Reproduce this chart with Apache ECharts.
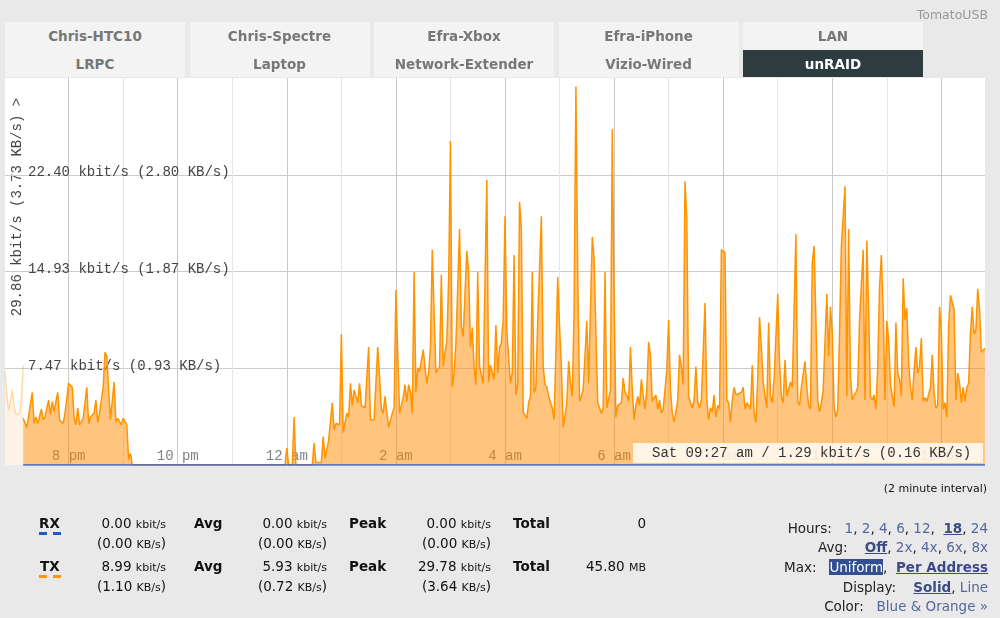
<!DOCTYPE html>
<html>
<head>
<meta charset="utf-8">
<title>Bandwidth: unRAID</title>
<script src="https://cdn.jsdelivr.net/npm/echarts@6/dist/echarts.min.js"></script>
<style>
body{margin:0;width:1000px;height:618px;overflow:hidden;background:#e9e9e9;font-family:'DejaVu Sans',sans-serif;position:relative}
#chart{position:absolute;left:0;top:0;width:1000px;height:618px}
.abs{position:absolute;white-space:nowrap;line-height:16px}
.tab{position:absolute;top:22px;width:180px;height:55px;background:#f3f3f3}
.tab div{height:27.5px;line-height:29px;text-align:center;font-weight:bold;font-size:13.5px;color:#777}
.tab .on{background:#2e3b3f;color:#fff}
.lbl{font-weight:bold;font-size:13.5px;color:#111}
.val{font-size:13.5px;color:#111;text-align:right}
.val small{font-size:11px}
.dash{position:absolute;width:8px;height:3px}
.opt{position:absolute;right:12px;white-space:nowrap;font-size:13.5px;line-height:16px;color:#222}
.opt a{color:#56679f;text-decoration:none}
.opt a.b{font-weight:bold;text-decoration:underline;color:#3c4b85}
.opt .sel{background:#32508f;color:#fff}
</style>
</head>
<body>
<div id="chart"></div>

<div class="abs" style="right:12px;top:7px;font-size:12.5px;color:#999">TomatoUSB</div>

<div class="tab" style="left:5px"><div>Chris-HTC10</div><div>LRPC</div></div>
<div class="tab" style="left:189.5px"><div>Chris-Spectre</div><div>Laptop</div></div>
<div class="tab" style="left:374px"><div>Efra-Xbox</div><div>Network-Extender</div></div>
<div class="tab" style="left:558.5px"><div>Efra-iPhone</div><div>Vizio-Wired</div></div>
<div class="tab" style="left:743px"><div>LAN</div><div class="on">unRAID</div></div>

<div class="abs" style="right:13px;top:481px;font-size:11px;color:#111">(2 minute interval)</div>

<!-- RX row -->
<div class="abs lbl" style="left:39px;top:515px">RX</div>
<div class="dash" style="left:39px;top:532px;background:#2456c8"></div>
<div class="dash" style="left:53px;top:532px;background:#2456c8"></div>
<div class="abs val" style="right:834px;top:515px">0.00 <small>kbit/s</small></div>
<div class="abs val" style="right:834px;top:535px">(0.00 <small>KB/s</small>)</div>
<div class="abs lbl" style="left:194px;top:515px">Avg</div>
<div class="abs val" style="right:673px;top:515px">0.00 <small>kbit/s</small></div>
<div class="abs val" style="right:673px;top:535px">(0.00 <small>KB/s</small>)</div>
<div class="abs lbl" style="left:349px;top:515px">Peak</div>
<div class="abs val" style="right:509px;top:515px">0.00 <small>kbit/s</small></div>
<div class="abs val" style="right:509px;top:535px">(0.00 <small>KB/s</small>)</div>
<div class="abs lbl" style="left:513px;top:515px">Total</div>
<div class="abs val" style="right:354px;top:515px">0</div>

<!-- TX row -->
<div class="abs lbl" style="left:40px;top:558px">TX</div>
<div class="dash" style="left:39px;top:575px;background:#ff9500"></div>
<div class="dash" style="left:53px;top:575px;background:#ff9500"></div>
<div class="abs val" style="right:834px;top:558px">8.99 <small>kbit/s</small></div>
<div class="abs val" style="right:834px;top:578px">(1.10 <small>KB/s</small>)</div>
<div class="abs lbl" style="left:194px;top:558px">Avg</div>
<div class="abs val" style="right:673px;top:558px">5.93 <small>kbit/s</small></div>
<div class="abs val" style="right:673px;top:578px">(0.72 <small>KB/s</small>)</div>
<div class="abs lbl" style="left:349px;top:558px">Peak</div>
<div class="abs val" style="right:509px;top:558px">29.78 <small>kbit/s</small></div>
<div class="abs val" style="right:509px;top:578px">(3.64 <small>KB/s</small>)</div>
<div class="abs lbl" style="left:513px;top:558px">Total</div>
<div class="abs val" style="right:354px;top:558px">45.80 <small>MB</small></div>

<div class="opt" style="top:520px">Hours:&nbsp;&nbsp; <a>1</a>, <a>2</a>, <a>4</a>, <a>6</a>, <a>12</a>,&nbsp; <a class="b">18</a>, <a>24</a></div>
<div class="opt" style="top:539px">Avg:&nbsp;&nbsp;&nbsp; <a class="b">Off</a>, <a>2x</a>, <a>4x</a>, <a>6x</a>, <a>8x</a></div>
<div class="opt" style="top:559px">Max:&nbsp;&nbsp; <span class="sel">Uniform</span>,&nbsp; <a class="b">Per Address</a></div>
<div class="opt" style="top:579px">Display:&nbsp;&nbsp;&nbsp; <a class="b">Solid</a>, <a>Line</a></div>
<div class="opt" style="top:598px">Color:&nbsp;&nbsp; <a>Blue &amp; Orange »</a></div>

<script>
// one sample every 2 minutes, 18 hours, first sample at 6:50 pm
let sampleTimes = []
for (let i = 0; i < 540; i++) {
	let m = (18 * 60 + 50 + i * 2) % 1440
	sampleTimes.push(String(Math.floor(m / 60)).padStart(2, '0') + ':' + String(m % 60).padStart(2, '0'))
}

let labelTimes = ['20:00', '22:00', '00:00', '02:00', '04:00', '06:00', '08:00', '10:00', '12:00']
let labelText = ['8 pm', '10 pm', '12 am', '2 am', '4 am', '6 am', '8 am', '10 am', '12 pm']

let yMax = 29.86
let yStep = 7.465
let yTickText = ['7.47 kbit/s (0.93 KB/s)', '14.93 kbit/s (1.87 KB/s)', '22.40 kbit/s (2.80 KB/s)']

// [sample number, kbit/s]
let oldSamples = [[0, 7.2], [1, 5.5], [2, 4.2], [4, 5.8], [5, 4.5], [6, 3.9], [8, 4.0], [9, 5.0], [10, 7.7]]

let rxSamples = [[10, 0], [539, 0]]

let txSamples = [
	[10, 3.6], [12, 2.9], [15, 5.6], [16, 3.2], [17, 3.7], [18, 3.2], [20, 4.3], [21, 3.5], [22, 3.7], [23, 4.4], [24, 5.0], [25, 3.9],
	[26, 4.9], [27, 4.1], [28, 4.9], [29, 5.6], [30, 3.5], [32, 3.2], [33, 4.0], [35, 6.3], [37, 6.0], [38, 3.7], [39, 3.1], [40, 4.4],
	[41, 3.1], [43, 3.6], [45, 6.0], [46, 3.2], [47, 3.7], [49, 4.0], [50, 5.0], [51, 3.3], [52, 4.0], [54, 6.0], [55, 8.7], [56, 8.4],
	[57, 5.8], [58, 3.5], [60, 6.4], [61, 3.3], [62, 3.6], [64, 3.1], [65, 3.6], [67, 3.1], [68, 0.4], [69, 0.9], [70, 0],
	[154, 0], [155, 1.3], [156, 0], [158, 0], [159, 3.7], [160, 0], [169, 0], [170, 1.7], [171, 0.2], [174, 0.2], [175, 2.2], [176, 0.5],
	[177, 0.6], [178, 1.9], [180, 4.8], [181, 2.7], [182, 3.2], [184, 3.1], [185, 10.1], [186, 2.5], [188, 4.0], [189, 3.7], [190, 6.3],
	[191, 4.6], [192, 5.8], [194, 4.8], [195, 6.3], [196, 4.6], [198, 4.4], [199, 4.4], [200, 9.1], [201, 3.5], [203, 3.5], [205, 9.1],
	[206, 6.8], [207, 4.3], [208, 4.0], [209, 5.3], [211, 2.9], [213, 4.0], [214, 4.4], [215, 13.5], [217, 4.0], [218, 3.9], [219, 5.2],
	[220, 6.2], [221, 4.9], [222, 6.2], [223, 5.6], [224, 4.0], [225, 14.9], [226, 5.6], [227, 7.5], [228, 7.2], [229, 7.3], [230, 8.9],
	[232, 6.3], [233, 7.1], [234, 9.1], [235, 16.6], [237, 7.1], [238, 7.1], [239, 7.6], [240, 14.7], [241, 7.6], [242, 8.7], [243, 9.5],
	[244, 14.3], [245, 25.0], [246, 6.0], [247, 7.1], [248, 9.4], [250, 18.2], [251, 10.7], [252, 9.9], [254, 16.5], [255, 14.9],
	[256, 9.1], [257, 10.6], [258, 7.6], [259, 6.2], [260, 14.9], [261, 7.6], [263, 6.3], [265, 22.0], [266, 6.4], [267, 7.7], [269, 6.6],
	[270, 10.8], [271, 7.1], [272, 9.1], [273, 9.4], [274, 11.2], [275, 19.2], [276, 10.4], [278, 6.3], [279, 7.1], [280, 16.2],
	[281, 5.4], [282, 6.2], [283, 20.3], [284, 18.2], [285, 4.1], [287, 3.6], [288, 4.8], [289, 5.3], [290, 14.9], [291, 5.6], [292, 6.0],
	[293, 11.2], [295, 19.2], [296, 7.6], [297, 6.2], [298, 6.0], [299, 5.3], [301, 4.4], [302, 3.5], [303, 8.7], [304, 14.5], [305, 10.7],
	[306, 7.6], [307, 2.9], [309, 4.8], [310, 8.0], [311, 6.3], [312, 5.3], [313, 11.8], [314, 29.2], [315, 14.9], [316, 4.9], [317, 5.3],
	[318, 5.8], [320, 11.1], [321, 6.3], [323, 17.6], [324, 15.9], [325, 10.2], [326, 4.8], [328, 4.0], [329, 4.4], [330, 14.9],
	[331, 4.4], [333, 5.8], [334, 25.9], [335, 12.8], [336, 3.7], [337, 4.6], [339, 4.8], [340, 6.7], [341, 5.6], [342, 5.4], [343, 4.9],
	[344, 9.1], [345, 5.8], [346, 3.5], [347, 4.6], [348, 5.3], [349, 4.6], [350, 6.6], [351, 5.4], [352, 4.3], [353, 5.8], [354, 9.5],
	[355, 8.4], [356, 4.9], [357, 5.2], [358, 5.4], [359, 4.3], [360, 5.0], [361, 4.0], [362, 4.3], [364, 7.3], [365, 11.2], [366, 5.8],
	[367, 4.0], [368, 3.3], [370, 5.0], [371, 8.5], [372, 7.6], [373, 6.2], [374, 21.9], [375, 19.0], [376, 5.3], [377, 4.8], [378, 4.4],
	[379, 5.0], [380, 7.6], [381, 4.9], [382, 4.4], [383, 5.0], [385, 12.5], [386, 5.0], [387, 3.5], [388, 4.4], [389, 4.1], [390, 5.4],
	[391, 3.7], [392, 4.6], [393, 4.3], [394, 16.6], [396, 16.4], [397, 5.0], [398, 4.8], [399, 3.3], [400, 5.0], [401, 6.0], [402, 5.4],
	[403, 5.3], [405, 5.6], [406, 6.0], [407, 4.3], [408, 4.8], [409, 4.6], [410, 4.3], [411, 7.7], [412, 4.0], [413, 3.3], [414, 6.6],
	[415, 11.4], [416, 9.1], [417, 6.4], [419, 4.4], [420, 11.0], [421, 5.3], [422, 4.8], [423, 6.6], [425, 13.2], [426, 7.9], [427, 5.3],
	[428, 4.8], [429, 8.1], [430, 5.3], [432, 6.4], [433, 6.0], [434, 6.0], [435, 17.8], [436, 4.9], [437, 4.6], [438, 6.0], [439, 6.0],
	[440, 8.0], [441, 6.0], [442, 4.6], [443, 4.3], [444, 15.6], [445, 16.9], [446, 11.2], [447, 5.0], [448, 4.1], [449, 4.8], [450, 5.8],
	[451, 5.8], [452, 13.2], [453, 8.4], [454, 12.2], [455, 10.2], [456, 4.5], [457, 3.7], [458, 4.3], [459, 10.2], [460, 16.9],
	[462, 21.5], [463, 5.3], [464, 18.2], [465, 6.8], [466, 5.0], [467, 5.4], [468, 5.6], [469, 6.0], [470, 11.2], [472, 16.6], [473, 5.0],
	[474, 17.3], [475, 12.0], [476, 5.3], [477, 5.0], [478, 5.4], [479, 4.3], [480, 7.6], [481, 13.8], [482, 16.2], [483, 12.0], [484, 5.0],
	[485, 11.1], [486, 9.7], [487, 6.3], [488, 5.3], [489, 4.5], [490, 11.0], [491, 7.1], [492, 6.6], [493, 5.3], [494, 14.4], [495, 11.2],
	[496, 12.1], [497, 7.9], [498, 6.0], [499, 5.0], [500, 7.3], [501, 9.1], [502, 7.1], [503, 7.6], [504, 9.8], [505, 4.9], [506, 5.2],
	[507, 4.9], [509, 6.0], [510, 8.5], [511, 5.6], [512, 4.4], [513, 4.6], [514, 12.2], [515, 10.2], [516, 4.3], [517, 4.8], [518, 3.7],
	[519, 10.7], [520, 13.1], [522, 12.0], [523, 5.0], [524, 7.1], [525, 6.3], [526, 4.8], [527, 6.0], [528, 4.9], [529, 6.0], [530, 6.3],
	[531, 10.2], [532, 12.2], [533, 10.1], [534, 10.4], [535, 13.6], [536, 12.0], [537, 8.7], [538, 8.7], [539, 9.0]
]

let mono = '"Liberation Mono", "Courier New", monospace'

let chart = echarts.init(document.getElementById('chart'))
let option = {
	animation: false,
	grid: {left: 5, right: 15, top: 78, bottom: 153, show: true, backgroundColor: '#fff', borderWidth: 0},
	xAxis: {
		type: 'category',
		boundaryGap: false,
		data: sampleTimes,
		axisLine: {show: false},
		axisTick: {show: false},
		axisLabel: {
			inside: true,
			margin: 2,
			verticalAlign: 'bottom',
			color: '#808080',
			fontFamily: mono,
			fontSize: 14,
			interval: (i, v) => labelTimes.indexOf(v) >= 0,
			formatter: v => labelText[labelTimes.indexOf(v)] || ''
		},
		splitLine: {
			show: true,
			interval: (i, v) => i > 10 && v.slice(3) == '00',
			lineStyle: {color: ['#c8c8c8', '#e6e6e6'], width: 1}
		}
	},
	yAxis: {
		type: 'value',
		min: 0,
		max: yMax,
		interval: yStep,
		axisLine: {show: false},
		axisTick: {show: false},
		axisLabel: {
			inside: true,
			margin: 23,
			showMinLabel: false,
			showMaxLabel: false,
			verticalAlign: 'bottom',
			lineHeight: 4,
			color: '#444',
			fontFamily: mono,
			fontSize: 14,
			formatter: v => yTickText[Math.round(v / yStep) - 1] || ''
		},
		splitLine: {show: true, showMinLine: false, showMaxLine: false, lineStyle: {color: '#cccccc'}}
	},
	series: [
		{
			name: 'old',
			type: 'line',
			data: oldSamples,
			symbol: 'none',
			lineStyle: {color: 'rgba(255,149,0,0.3)', width: 1.5},
			areaStyle: {color: 'rgba(255,140,0,0.1)', opacity: 1}
		},
		{
			name: 'TX',
			type: 'line',
			data: txSamples,
			symbol: 'none',
			lineStyle: {color: '#ff9400', width: 1.5},
			areaStyle: {color: 'rgba(255,140,0,0.5)', opacity: 1}
		},
		{
			name: 'RX',
			type: 'line',
			data: rxSamples,
			symbol: 'none',
			z: 5,
			lineStyle: {color: '#2b5cc4', width: 1.5}
		}
	],
	graphic: [
		{
			type: 'text', x: 17, y: 207, rotation: Math.PI / 2,
			style: {text: '29.86 kbit/s (3.73 KB/s) >', font: '14px ' + mono, fill: '#444',
				align: 'center', verticalAlign: 'middle', textAlign: 'center', textVerticalAlign: 'middle'}
		},
		{
			type: 'rect', z: 100,
			shape: {x: 633, y: 443, width: 350, height: 20},
			style: {fill: 'rgba(255,255,255,0.8)'}
		},
		{
			type: 'text', z: 101, x: 652, y: 453.5,
			style: {text: 'Sat 09:27 am / 1.29 kbit/s (0.16 KB/s)', font: '14px ' + mono, fill: '#333',
				align: 'left', verticalAlign: 'middle', textAlign: 'left', textVerticalAlign: 'middle'}
		}
	]
}
chart.setOption(option)
</script>
</body>
</html>
